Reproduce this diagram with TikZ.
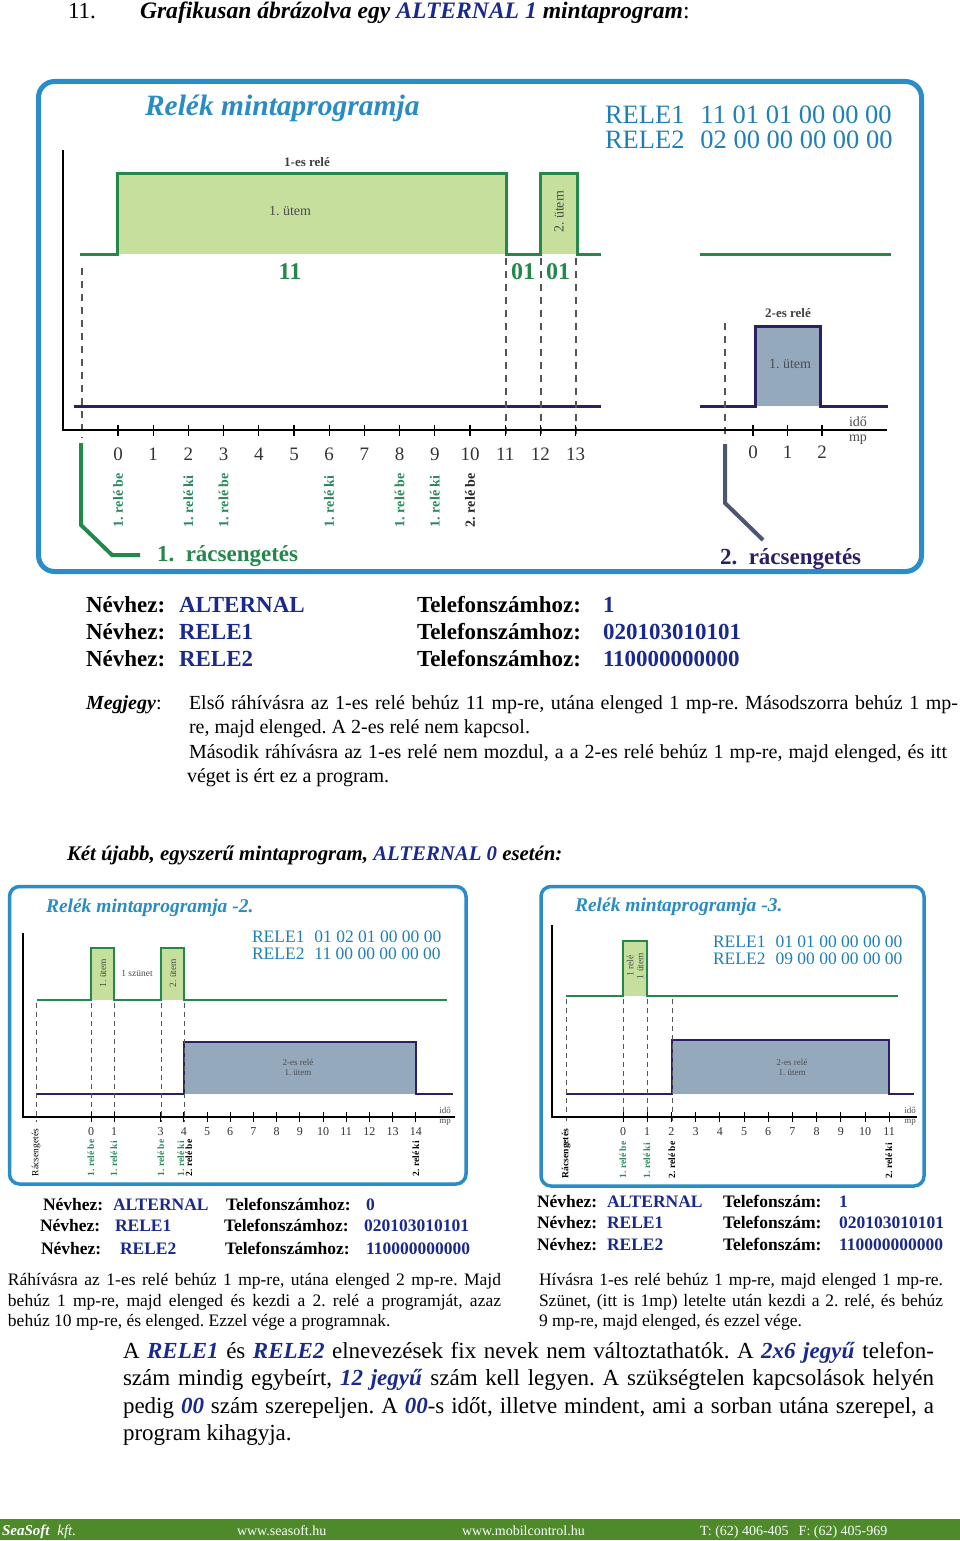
\documentclass[tikz,border=0pt]{standalone}
\usepackage{fontspec}
\setmainfont{Liberation Serif}
\definecolor{frameblue}{HTML}{2A8CC8}
\definecolor{titleblue}{HTML}{2A8CC4}
\definecolor{releblue}{HTML}{1F80B6}
\definecolor{sigreen}{HTML}{23884A}
\definecolor{fillgreen}{HTML}{C6DF9C}
\definecolor{navy}{HTML}{2B2066}
\definecolor{fillslate}{HTML}{95A9BD}
\definecolor{slate}{HTML}{4B5673}
\definecolor{txtblue}{HTML}{1A2A8C}
\definecolor{labgreen}{HTML}{2A8A5E}
\definecolor{footgreen}{HTML}{4E8A2A}
\definecolor{dashgray}{HTML}{555555}
\newcommand\fs[1]{\fontsize{#1}{#1}\selectfont}
\newcommand\bl[1]{\textcolor{txtblue}{\textbf{\textit{#1}}}}
\tikzset{
  txt/.style={inner sep=0pt, outer sep=0pt, anchor=base west},
  ctxt/.style={inner sep=0pt, outer sep=0pt, anchor=center},
  rlab/.style={inner sep=0pt, outer sep=0pt, anchor=west, rotate=90},
  dsh/.style={dashgray, line width=1.1, dash pattern=on 7pt off 6pt},
  sdsh/.style={dashgray, line width=0.9, dash pattern=on 5pt off 4pt},
  sig1/.style={sigreen, line width=3, line join=miter},
  sig2/.style={navy, line width=3, line join=miter},
}
\begin{document}
\frenchspacing
\begin{tikzpicture}[x=1pt,y=-1pt]
\fill[white] (0,0) rectangle (960,1541);
\useasboundingbox (0,0) rectangle (960,1541);

% ---------- heading ----------
\node[txt] (h1) at (68,19) {\fs{23}11.};
\node[txt] (h2) at (140,19) {\fs{23.6}\textbf{\textit{Grafikusan ábrázolva egy \textcolor{txtblue}{ALTERNAL 1} mintaprogram}}:};

% ---------- top diagram ----------
\draw[frameblue, line width=5, rounded corners=16] (38.5,81.5) rectangle (921.5,571.5);
\node[txt] (t1) at (145,116) {\fs{29.5}\textcolor{titleblue}{\textbf{\textit{Relék mintaprogramja}}}};
\node[txt] (r1) at (605,124) {\fs{26.5}\textcolor{releblue}{RELE1\hspace{16pt}11 01 01 00 00 00}};
\node[txt] (r2) at (605,149) {\fs{26.5}\textcolor{releblue}{RELE2\hspace{16pt}02 00 00 00 00 00}};

% relay 1 signal
\fill[fillgreen] (117,174) rectangle (506,254);
\fill[fillgreen] (540,174) rectangle (577,254);
\draw[sig1] (80,254) -- (117,254) -- (117,174) -- (506,174) -- (506,254) -- (540,254) -- (540,174) -- (577,174) -- (577,254) -- (601,254);
\draw[sig1] (700,254) -- (891,254);
\node[ctxt] (l1es) at (307,162) {\fs{13}\textcolor{black!75}{\textbf{1-es relé}}};
\node[ctxt] (u1) at (290,211) {\fs{14}\textcolor{black!70}{1. ütem}};
\node[ctxt, rotate=90] (u2) at (559,212) {\fs{14}\textcolor{black!70}{2. ütem}};
\node[ctxt] (c11) at (290,272) {\fs{24}\textcolor{sigreen}{\textbf{11}}};
\node[ctxt] (c01a) at (523,272) {\fs{24}\textcolor{sigreen}{\textbf{01}}};
\node[ctxt] (c01b) at (558,272) {\fs{24}\textcolor{sigreen}{\textbf{01}}};

% relay 2 signal
\draw[sig2] (74,406) -- (601,406);
\fill[fillslate] (755,326) rectangle (820,406);
\draw[sig2] (700,406) -- (755,406) -- (755,326) -- (820,326) -- (820,406) -- (888,406);
\node[ctxt] (l2es) at (788,313) {\fs{13}\textcolor{black!75}{\textbf{2-es relé}}};
\node[ctxt] (u3) at (790,364) {\fs{14}\textcolor{black!70}{1. ütem}};

% dashed guides
\draw[dsh] (82,268) -- (82,438);
\foreach \x in {506,541,576} \draw[dsh] (\x,258) -- (\x,438);
\draw[dsh] (725,323) -- (725,440);

% axes
\draw[black, line width=2] (63,150) -- (63,430) -- (887,430);
\foreach \k in {0,...,13} {
  \draw[black, line width=1.3] (118+35.2*\k,425) -- (118+35.2*\k,436);
  \node[ctxt] (na\k) at (118+35.2*\k,454) {\fs{19}\textcolor{black!80}{\k}};
}
\foreach \k in {0,1,2} {
  \draw[black, line width=1.3] (753+34.5*\k,425) -- (753+34.5*\k,436);
  \node[ctxt] (nb\k) at (753+34.5*\k,452) {\fs{19}\textcolor{black!80}{\k}};
}
\node[ctxt] (ido1) at (858,422) {\fs{14}\textcolor{black!70}{idő}};
\node[ctxt] (mp1) at (858,440) {\fs{14}\textcolor{black!70}{mp}};

% event labels
\node[rlab] (e0) at (118,527) {\fs{14}\textcolor{labgreen}{\textbf{1. relé be}}};
\node[rlab] (e2) at (188.4,527) {\fs{14}\textcolor{labgreen}{\textbf{1. relé ki}}};
\node[rlab] (e3) at (223.6,527) {\fs{14}\textcolor{labgreen}{\textbf{1. relé be}}};
\node[rlab] (e6) at (329.2,527) {\fs{14}\textcolor{labgreen}{\textbf{1. relé ki}}};
\node[rlab] (e8) at (399.6,527) {\fs{14}\textcolor{labgreen}{\textbf{1. relé be}}};
\node[rlab] (e9) at (434.8,527) {\fs{14}\textcolor{labgreen}{\textbf{1. relé ki}}};
\node[rlab] (e10) at (470,527) {\fs{14}\textcolor{black!85}{\textbf{2. relé be}}};

% ringing brackets
\draw[sigreen, line width=4] (81,443) -- (81,525) -- (112,555) -- (140,555);
\node[txt] (rc1) at (157,561) {\fs{23}\textcolor{sigreen}{\textbf{1.\ \ rácsengetés}}};
\draw[slate, line width=4] (725,444) -- (725,503) -- (763,540);
\node[txt] (rc2) at (720,564) {\fs{23}\textcolor{navy}{\textbf{2.\ \ rácsengetés}}};

% ---------- text block 1 ----------
\foreach \i/\y/\n/\t in {1/612/ALTERNAL/1, 2/639/RELE1/020103010101, 3/666/RELE2/110000000000} {
  \node[txt] (nv\i) at (86,\y) {\fs{23}\textbf{Névhez:}};
  \node[txt] (nn\i) at (179,\y) {\fs{23}\textcolor{txtblue}{\textbf{\n}}};
  \node[txt] (tf\i) at (417,\y) {\fs{23}\textbf{Telefonszámhoz:}};
  \node[txt] (tn\i) at (603,\y) {\fs{23}\textcolor{txtblue}{\textbf{\t}}};
}
\node[txt] (mg) at (86,709) {\fs{20}\textbf{\textit{Megjegy}}:};
\node[txt] (m1) at (189,709) {\fs{20}\makebox[769pt][s]{Első ráhívásra az 1-es relé behúz 11 mp-re, utána elenged 1 mp-re. Másodszorra behúz 1 mp-}};
\node[txt] (m2) at (189,733) {\fs{20}re, majd elenged. A 2-es relé nem kapcsol.};
\node[txt] (m3) at (189,758) {\fs{20}\makebox[758pt][s]{Második ráhívásra az 1-es relé nem mozdul, a a 2-es relé behúz 1 mp-re, majd elenged, és itt}};
\node[txt] (m4) at (187,782) {\fs{20}véget is ért ez a program.};

\node[txt] (h3) at (67,860) {\fs{20.8}\textbf{\textit{Két újabb, egyszerű mintaprogram, \textcolor{txtblue}{ALTERNAL 0} esetén:}}};

% ---------- bottom-left diagram ----------
\draw[frameblue, line width=3.5, rounded corners=10] (9.5,886.5) rectangle (466,1184);
\node[txt] (t2) at (46,912) {\fs{19.5}\textcolor{titleblue}{\textbf{\textit{Relék mintaprogramja -2.}}}};
\node[txt] (r3) at (252,942) {\fs{17.5}\textcolor{releblue}{RELE1\hspace{10pt}01 02 01 00 00 00}};
\node[txt] (r4) at (252,959) {\fs{17.5}\textcolor{releblue}{RELE2\hspace{10pt}11 00 00 00 00 00}};
\fill[fillgreen] (91,948) rectangle (114,1000);
\fill[fillgreen] (161,948) rectangle (184,1000);
\draw[sig1, line width=2] (37,1000) -- (91,1000) -- (91,948) -- (114,948) -- (114,1000) -- (161,1000) -- (161,948) -- (184,948) -- (184,1000) -- (447,1000);
\node[ctxt, rotate=90] (u4) at (103,973) {\fs{9.5}\textcolor{black!70}{1. ütem}};
\node[ctxt, rotate=90] (u5) at (173,973) {\fs{9.5}\textcolor{black!70}{2. ütem}};
\node[ctxt] (sz) at (137,973) {\fs{9.5}\textcolor{black!70}{1 szünet}};
\fill[fillslate] (184,1042) rectangle (416,1094);
\draw[sig2, line width=2.2] (37,1094) -- (184,1094) -- (184,1042) -- (416,1042) -- (416,1094) -- (453,1094);
\node[ctxt, align=center, text=black!70, font=\fontsize{9}{10}\selectfont] (u6) at (298,1067) {2-es relé\\1. ütem};
\foreach \x in {36,91,114,161,184} \draw[sdsh] (\x,1003) -- (\x,1122);
\draw[black, line width=1.6] (23,933) -- (23,1117) -- (455,1117);
\foreach \k in {0,1,3,4,5,6,7,8,9,10,11,12,13,14} {
  \draw[black, line width=0.9] (91+23.2*\k,1112) -- (91+23.2*\k,1122);
  \node[ctxt] (nc\k) at (91+23.2*\k,1132) {\fs{12}\textcolor{black!80}{\k}};
}
\node[ctxt] (ido2) at (445,1110) {\fs{9}\textcolor{black!70}{idő}};
\node[ctxt] (mp2) at (445,1122) {\fs{9}\textcolor{black!70}{mp}};
\node[rlab] (f0) at (36,1176) {\fs{9.5}Rácsengetés};
\node[rlab] (f1) at (91,1176) {\fs{9.5}\textcolor{labgreen}{\textbf{1. relé be}}};
\node[rlab] (f2) at (114,1176) {\fs{9.5}\textcolor{labgreen}{\textbf{1. relé ki}}};
\node[rlab] (f3) at (161,1176) {\fs{9.5}\textcolor{labgreen}{\textbf{1. relé be}}};
\node[rlab] (f4) at (181,1176) {\fs{9.5}\textcolor{labgreen}{\textbf{1. relé ki}}};
\node[rlab] (f5) at (189,1176) {\fs{9.5}\textbf{2. relé be}};
\node[rlab] (f6) at (416,1176) {\fs{9.5}\textbf{2. relé ki}};

% ---------- bottom-right diagram ----------
\draw[frameblue, line width=3.5, rounded corners=10] (541,886.5) rectangle (924,1186);
\node[txt] (t3) at (575,911) {\fs{19.5}\textcolor{titleblue}{\textbf{\textit{Relék mintaprogramja -3.}}}};
\node[txt] (r5) at (713,947) {\fs{17.5}\textcolor{releblue}{RELE1\hspace{10pt}01 01 00 00 00 00}};
\node[txt] (r6) at (713,964) {\fs{17.5}\textcolor{releblue}{RELE2\hspace{10pt}09 00 00 00 00 00}};
\fill[fillgreen] (623,941) rectangle (647,996);
\draw[sig1, line width=2] (566,996) -- (623,996) -- (623,941) -- (647,941) -- (647,996) -- (898,996);
\node[ctxt, rotate=90, align=center, text=black!70, font=\fontsize{9.5}{10}\selectfont] (u7) at (635,966) {1 relé\\1 ütem};
\fill[fillslate] (672,1040) rectangle (889,1094);
\draw[sig2, line width=2.2] (566,1094) -- (672,1094) -- (672,1040) -- (889,1040) -- (889,1094) -- (914,1094);
\node[ctxt, align=center, text=black!70, font=\fontsize{9}{10}\selectfont] (u8) at (792,1067) {2-es relé\\1. ütem};
\foreach \x in {566,623,647,672} \draw[sdsh] (\x,999) -- (\x,1122);
\draw[black, line width=1.6] (552,925) -- (552,1117) -- (917,1117);
\foreach \k in {0,...,11} {
  \draw[black, line width=0.9] (623+24.2*\k,1112) -- (623+24.2*\k,1122);
  \node[ctxt] (nd\k) at (623+24.2*\k,1132) {\fs{12}\textcolor{black!80}{\k}};
}
\node[ctxt] (ido3) at (910,1110) {\fs{9}\textcolor{black!70}{idő}};
\node[ctxt] (mp3) at (910,1122) {\fs{9}\textcolor{black!70}{mp}};
\node[rlab] (g0) at (566,1178) {\fs{9.5}\textbf{Rácsengetés}};
\node[rlab] (g1) at (623,1178) {\fs{9.5}\textcolor{labgreen}{\textbf{1. relé be}}};
\node[rlab] (g2) at (647,1178) {\fs{9.5}\textcolor{labgreen}{\textbf{1. relé ki}}};
\node[rlab] (g3) at (672,1178) {\fs{9.5}\textbf{2. relé be}};
\node[rlab] (g4) at (889,1178) {\fs{9.5}\textbf{2. relé ki}};

% ---------- bottom texts ----------
\node[txt] (bl1a) at (43,1210) {\fs{17.5}\textbf{Névhez:}};
\node[txt] (bl1b) at (113,1210) {\fs{17.5}\textcolor{txtblue}{\textbf{ALTERNAL}}};
\node[txt] (bl1c) at (226,1210) {\fs{17.5}\textbf{Telefonszámhoz:}};
\node[txt] (bl1d) at (366,1210) {\fs{17.5}\textcolor{txtblue}{\textbf{0}}};
\node[txt] (bl2a) at (40,1231) {\fs{17.5}\textbf{Névhez:}};
\node[txt] (bl2b) at (115,1231) {\fs{17.5}\textcolor{txtblue}{\textbf{RELE1}}};
\node[txt] (bl2c) at (224,1231) {\fs{17.5}\textbf{Telefonszámhoz:}};
\node[txt] (bl2d) at (364,1231) {\fs{17.5}\textcolor{txtblue}{\textbf{020103010101}}};
\node[txt] (bl3a) at (41,1254) {\fs{17.5}\textbf{Névhez:}};
\node[txt] (bl3b) at (120,1254) {\fs{17.5}\textcolor{txtblue}{\textbf{RELE2}}};
\node[txt] (bl3c) at (225,1254) {\fs{17.5}\textbf{Telefonszámhoz:}};
\node[txt] (bl3d) at (366,1254) {\fs{17.5}\textcolor{txtblue}{\textbf{110000000000}}};

\node[txt] (pl1) at (8,1285) {\fs{17.5}\makebox[493pt][s]{Ráhívásra az 1-es relé behúz 1 mp-re, utána elenged 2 mp-re. Majd}};
\node[txt] (pl2) at (8,1306) {\fs{17.5}\makebox[493pt][s]{behúz 1 mp-re, majd elenged és kezdi a 2. relé a programját, azaz}};
\node[txt] (pl3) at (8,1326) {\fs{17.5}behúz 10 mp-re, és elenged. Ezzel vége a programnak.};

\foreach \i/\y/\n/\t in {1/1207/ALTERNAL/1, 2/1228/RELE1/020103010101, 3/1250/RELE2/110000000000} {
  \node[txt] (br\i a) at (537,\y) {\fs{17.5}\textbf{Névhez:}};
  \node[txt] (br\i b) at (607,\y) {\fs{17.5}\textcolor{txtblue}{\textbf{\n}}};
  \node[txt] (br\i c) at (723,\y) {\fs{17.5}\textbf{Telefonszám:}};
  \node[txt] (br\i d) at (839,\y) {\fs{17.5}\textcolor{txtblue}{\textbf{\t}}};
}
\node[txt] (pr1) at (539,1285) {\fs{17.5}\makebox[404pt][s]{Hívásra 1-es relé behúz 1 mp-re, majd elenged 1 mp-re.}};
\node[txt] (pr2) at (539,1306) {\fs{17.5}\makebox[404pt][s]{Szünet, (itt is 1mp) letelte után kezdi a 2. relé, és behúz}};
\node[txt] (pr3) at (539,1326) {\fs{17.5}9 mp-re, majd elenged, és ezzel vége.};

% ---------- big paragraph ----------
\node[txt] (bp1) at (123,1358) {\fs{23}\makebox[811pt][s]{A \bl{RELE1} és \bl{RELE2} elnevezések fix nevek nem változtathatók. A \bl{2x6 jegyű} telefon-}};
\node[txt] (bp2) at (123,1385) {\fs{23}\makebox[811pt][s]{szám mindig egybeírt, \bl{12 jegyű} szám kell legyen. A szükségtelen kapcsolások helyén}};
\node[txt] (bp3) at (123,1413) {\fs{23}\makebox[811pt][s]{pedig \bl{00} szám szerepeljen. A \bl{00}-s időt, illetve mindent, ami a sorban utána szerepel, a}};
\node[txt] (bp4) at (123,1440) {\fs{23}program kihagyja.};

% ---------- footer ----------
\fill[footgreen] (0,1519) rectangle (960,1540);
\node[txt] (ft1) at (2,1535) {\fs{15}\textcolor{white}{\textbf{\textit{SeaSoft}}\ \ \textit{kft.}}};
\node[txt] (ft2) at (237,1535) {\fs{14}\textcolor{white}{www.seasoft.hu}};
\node[txt] (ft3) at (462,1535) {\fs{14}\textcolor{white}{www.mobilcontrol.hu}};
\node[txt] (ft4) at (700,1535) {\fs{14}\textcolor{white}{T: (62) 406-405\hspace{10pt}F: (62) 405-969}};
\end{tikzpicture}
\end{document}
